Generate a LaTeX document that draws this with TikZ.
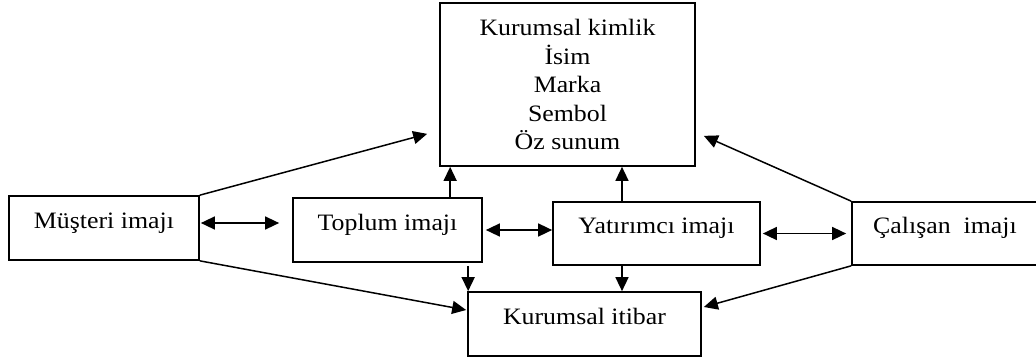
\documentclass[tikz,border=0pt]{standalone}
\usepackage{fontspec}
\setmainfont[FakeStretch=1.1]{Liberation Serif}
\usetikzlibrary{arrows.meta,calc}
\begin{document}
\begin{tikzpicture}[x=1pt,y=-1pt,
  frame/.style={draw,line width=1.7pt,inner sep=0pt},
  box/.style={frame,text height=16pt,text depth=16pt},
  tip/.tip={Triangle[length=14pt,width=13pt]},
  arr/.style={line width=1.5pt,-tip},
  dbl/.style={line width=1.5pt,tip-tip},
  font=\fontsize{23.5}{28.5}\selectfont]
\useasboundingbox (0,0) rectangle (1036,362);

% boxes
\node[frame,minimum width=255pt,minimum height=163pt,align=center]
  (kimlik) at (567.5,84.5) {Kurumsal kimlik\\İsim\\Marka\\Sembol\\Öz sunum};
\node[box,minimum width=190pt,minimum height=64pt] (musteri) at (104,228) {Müşteri imajı};
\node[box,minimum width=189pt,minimum height=64pt] (toplum) at (387.5,230) {Toplum imajı};
\node[box,minimum width=207pt,minimum height=63pt] (yatirimci) at (656.5,233.5) {Yatırımcı imajı};
\node[box,minimum width=186pt,minimum height=63pt] (calisan) at (945,233.5) {Çalışan~ imajı};
\node[box,minimum width=233pt,minimum height=64pt] (itibar) at (584.5,324) {Kurumsal itibar};

% column positions of the vertical links
\coordinate (tx) at ([xshift=11pt]kimlik.south west);
\coordinate (yx) at ([xshift=54.5pt]kimlik.south);
\coordinate (ix) at ([xshift=1pt]itibar.north west);

% customer image
\draw[arr] (musteri.north east) -- ([shift={(-12,-33)}]kimlik.south west);
\draw[arr] (musteri.south east) -- ([shift={(-1,-14)}]itibar.west);
\draw[dbl,shorten <=1pt,shorten >=13pt] ([yshift=5pt]musteri.east) -- ([yshift=5pt]musteri.east -| toplum.west);

% society image
\draw[arr] (tx |- toplum.north) -- (tx);
\draw[arr,shorten <=3pt] (ix |- toplum.south) -- (ix);
\draw[dbl,shorten <=3pt] (toplum.east) -- (toplum.east -| yatirimci.west);

% investor image
\draw[arr] (yx |- yatirimci.north) -- (yx);
\draw[arr] (yx |- yatirimci.south) -- (yx |- itibar.north);
\draw[dbl,shorten <=2pt,shorten >=5pt] (yatirimci.east) -- (yatirimci.east -| calisan.west);

% employee image
\draw[arr] (calisan.north west) -- ([shift={(8,-31)}]kimlik.south east);
\draw[arr] (calisan.south west) -- ([shift={(2,-17)}]itibar.east);
\end{tikzpicture}
\end{document}
